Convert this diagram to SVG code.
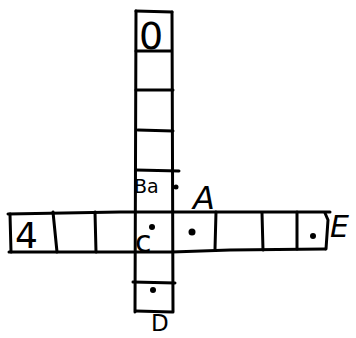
<svg xmlns="http://www.w3.org/2000/svg" width="356" height="338" viewBox="0 0 356 338">
<style>
.ln{stroke:#000;stroke-width:3;fill:none;stroke-linecap:round;stroke-linejoin:round}
.t{font-family:"DejaVu Sans",sans-serif;fill:#000}
.dot{fill:#000}
</style>
<rect width="356" height="338" fill="#fff"/>
<g id="connectors"></g>
<g id="column" class="ln">
<path d="M136 11 L172 12"/>
<path d="M136 11 L135 312"/>
<path d="M172 12 L173 312"/>
<path d="M136 51 L171 51"/>
<path d="M136 90 L173 90"/>
<path d="M138 130 L173 131"/>
<path d="M136 170 L179 171"/>
<path d="M133 282 L175 283"/>
<path d="M136 311 L172 312"/>
</g>
<g id="row" class="ln">
<path d="M8 214 L120 212 L172 212 L330 212"/>
<path d="M9 252 L172 252 L230 250 L325 249"/>
<path d="M10 214 L11 252"/>
<path d="M53 212 L57 252"/>
<path d="M95 212 L96 252"/>
<path d="M216 212 L215 249"/>
<path d="M262 213 L263 250"/>
<path d="M297 212 L297 249"/>
<path d="M325 213 L328 220 L326 249"/>
</g>
<g id="cell-top"><text class="t" x="139" y="49" font-size="38">0</text></g>
<g id="cell-ba">
<text class="t" x="134" y="193" font-size="19">Ba</text>
<circle class="dot" cx="176" cy="187" r="2.5"/>
</g>
<g id="cell-left"><text class="t" x="15" y="248" font-size="36">4</text></g>
<g id="cell-center">
<text class="t" x="135" y="252" font-size="30">c</text>
<circle class="dot" cx="152" cy="227" r="3"/>
</g>
<g id="cell-A">
<text class="t" x="193" y="209" font-size="32" font-style="italic">A</text>
<circle class="dot" cx="192" cy="232" r="3.5"/>
</g>
<g id="cell-E">
<circle class="dot" cx="313" cy="236" r="3"/>
<text class="t" x="330" y="237" font-size="30" font-style="italic">E</text>
</g>
<g id="cell-D">
<circle class="dot" cx="153" cy="290" r="3"/>
<text class="t" x="151" y="331" font-size="23">D</text>
</g>
</svg>
